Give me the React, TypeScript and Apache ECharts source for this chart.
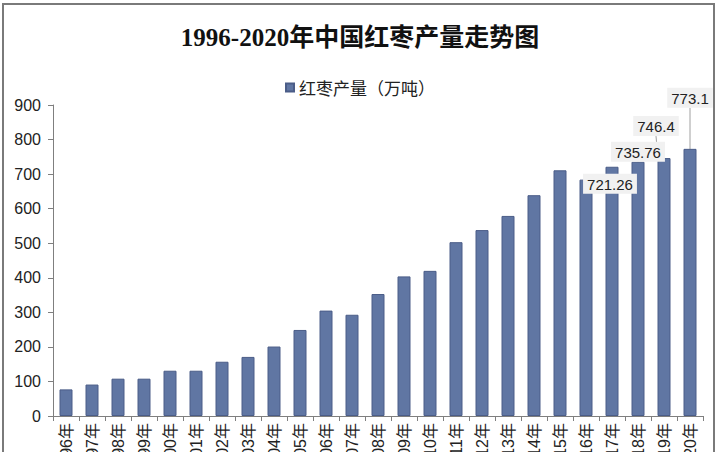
import React, { useEffect, useRef } from "react";
import * as echarts from "echarts";

const years: string[] = [
  "1996年", "1997年", "1998年", "1999年", "2000年", "2001年", "2002年", "2003年", "2004年",
  "2005年", "2006年", "2007年", "2008年", "2009年", "2010年", "2011年", "2012年", "2013年",
  "2014年", "2015年", "2016年", "2017年", "2018年", "2019年", "2020年",
];
const production: number[] = [
  77, 91, 108, 108, 131, 131, 157, 171, 201, 249, 305, 293, 353, 404, 420, 503, 538, 579, 639,
  711, 684, 721.26, 735.76, 746.4, 773.1,
];
const labeledYears: string[] = ["2017年", "2018年", "2019年", "2020年"];
const labelShift: number[][] = [
  [-2, 32],
  [0, 5],
  [-8, -17],
  [0, -36],
];
const yTicks = { min: 0, max: 900, interval: 100 };
const title = "1996-2020年中国红枣产量走势图";
const seriesName = "红枣产量（万吨）";

export default function App() {
  const ref = useRef<HTMLDivElement>(null);
  useEffect(() => {
    if (!ref.current) return;
    const chart = echarts.init(ref.current, undefined, { renderer: "svg" });
    const data = production.map((v, i) => {
      const li = labeledYears.indexOf(years[i]);
      if (li < 0) return v;
      return {
        value: v,
        label: {
          show: true,
          position: "top",
          color: "#222",
          fontSize: 15,
          fontFamily: "Liberation Sans, Arial, sans-serif",
          backgroundColor: "#f1f1f1",
          padding: [3, 4, 2, 4],
        },
      };
    });
    chart.setOption({
      animation: false,
      backgroundColor: "#ffffff",
      title: {
        text: title,
        left: "center",
        top: 20,
        textStyle: {
          fontSize: 25,
          fontWeight: "bold",
          color: "#111",
          fontFamily: "Liberation Serif, Noto Sans CJK SC, serif",
        },
      },
      legend: {
        top: 74,
        left: "center",
        icon: "rect",
        itemWidth: 8,
        itemHeight: 8,
        itemGap: 4,
        textStyle: {
          fontSize: 17,
          color: "#222",
          fontFamily: "Noto Sans CJK SC, sans-serif",
        },
        data: [seriesName],
      },
      graphic: [
        {
          type: "rect",
          shape: { x: 3, y: 4, width: 711, height: 470 },
          style: { fill: "none", stroke: "#7a7a7a", lineWidth: 2 },
          silent: true,
        },
      ],
      grid: { left: 53, right: 17, top: 105, bottom: 36, outerBoundsMode: "none", containLabel: false },
      xAxis: {
        type: "category",
        data: years,
        boundaryGap: true,
        axisLine: { lineStyle: { color: "#7f7f7f", width: 1 } },
        axisTick: { show: true, alignWithLabel: false, length: 5, lineStyle: { color: "#7f7f7f" } },
        axisLabel: {
          rotate: 90,
          interval: 0,
          margin: 7,
          fontSize: 16,
          color: "#222",
          fontFamily: "Liberation Sans, Noto Sans CJK SC, sans-serif",
        },
      },
      yAxis: {
        type: "value",
        min: yTicks.min,
        max: yTicks.max,
        interval: yTicks.interval,
        splitLine: { show: false },
        axisLine: { show: true, lineStyle: { color: "#7f7f7f", width: 1 } },
        axisTick: { show: true, length: 5, lineStyle: { color: "#7f7f7f" } },
        axisLabel: {
          margin: 12,
          fontSize: 16,
          color: "#222",
          fontFamily: "Liberation Sans, Arial, sans-serif",
        },
      },
      series: [
        {
          name: seriesName,
          type: "bar",
          data,
          barWidth: "50%",
          itemStyle: { color: "#6076a3", borderColor: "#4b5d88", borderWidth: 1 },
          label: { show: false },
          labelLine: { show: true, lineStyle: { color: "#a0a0a0", width: 1 } },
          labelLayout: (params: any) => {
            const li = labeledYears.indexOf(years[params.dataIndex]);
            if (li < 0) return {};
            return { dx: labelShift[li][0], dy: labelShift[li][1] };
          },
        },
      ],
    });
    return () => chart.dispose();
  }, []);
  return (
    <div
      ref={ref}
      style={{ position: "fixed", left: 0, top: 0, width: 720, height: 452 }}
    />
  );
}
